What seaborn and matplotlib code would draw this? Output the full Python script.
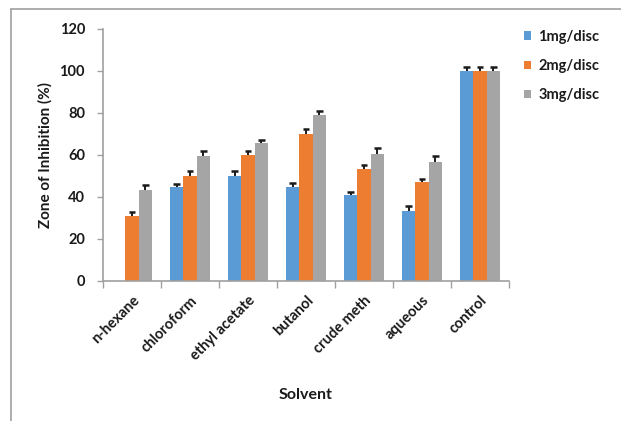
import matplotlib
matplotlib.use("Agg")
import matplotlib.pyplot as plt
from matplotlib.lines import Line2D
import numpy as np
import pandas as pd
import seaborn as sns

solvents = ["n-hexane", "chloroform", "ethyl acetate", "butanol",
            "crude meth", "aqueous", "control"]
doses = ["1mg/disc", "2mg/disc", "3mg/disc"]

inhibition_1mg = [0.0, 44.7, 50.2, 44.7, 40.9, 33.4, 100.0]
inhibition_2mg = [31.1, 50.2, 60.1, 69.9, 53.2, 47.1, 100.0]
inhibition_3mg = [43.4, 59.4, 65.6, 79.2, 60.7, 56.9, 100.0]

error_1mg = [0.0, 1.6, 2.2, 2.2, 1.7, 2.4, 1.9]
error_2mg = [1.6, 2.2, 1.7, 2.4, 2.2, 1.7, 1.9]
error_3mg = [2.4, 2.4, 1.7, 1.7, 2.4, 2.4, 1.9]

yticks = [0, 20, 40, 60, 80, 100, 120]

palette = ["#5B9BD5", "#ED7D31", "#A5A5A5"]

df = pd.DataFrame({
    "Solvent": solvents * 3,
    "Dose": [d for d in doses for _ in solvents],
    "Inhibition": inhibition_1mg + inhibition_2mg + inhibition_3mg,
    "Error": error_1mg + error_2mg + error_3mg,
})

sns.set_theme(style="white")
plt.rcParams["font.family"] = ["Lato", "DejaVu Sans"]

TEXT = "#1a1a1a"
AXIS = "#A0A0A0"

fig = plt.figure(figsize=(6.21, 4.21), dpi=100)
ax = fig.add_axes([103 / 621, 1 - 281 / 421, 406 / 621, 252 / 421])

sns.barplot(data=df, x="Solvent", y="Inhibition", hue="Dose",
            order=solvents, hue_order=doses, palette=palette,
            errorbar=None, width=0.68, saturation=1, ax=ax,
            linewidth=0, legend=True)

# plus-direction error bars: stem from bar top, cap at top only
cap_half = 0.06
for container, dose in zip(ax.containers, doses):
    sub = df[df["Dose"] == dose].set_index("Solvent").loc[solvents]
    vals = sub["Inhibition"].to_numpy()
    errs = sub["Error"].to_numpy()
    for patch, v, e in zip(container.patches, vals, errs):
        if v <= 0:
            continue
        xc = patch.get_x() + patch.get_width() / 2
        ax.vlines(xc, v, v + e, color=TEXT, lw=1.4, zorder=5)
        ax.hlines(v + e, xc - cap_half, xc + cap_half, color=TEXT,
                  lw=1.8, zorder=5)

ax.set_ylim(0, 120)
ax.set_xlim(-0.5, len(solvents) - 0.5)
ax.set_yticks(yticks)
ax.set_yticklabels([str(t) for t in yticks], fontsize=10.5,
                   fontweight="bold", color=TEXT)
ax.set_xticks(range(len(solvents)))
ax.set_xticklabels(solvents, rotation=45, ha="right",
                   rotation_mode="anchor", fontsize=10.5,
                   fontweight="bold", color=TEXT)
ax.set_xticks(np.arange(-0.5, len(solvents)), minor=True)
ax.tick_params(axis="x", which="major", length=0, pad=9)
ax.tick_params(axis="x", which="minor", length=5, width=1,
               color=AXIS, direction="out", bottom=True)
ax.tick_params(axis="y", length=4, width=1, color=AXIS,
               direction="out", left=True, pad=9)

for side in ["top", "right"]:
    ax.spines[side].set_visible(False)
for side in ["left", "bottom"]:
    ax.spines[side].set_color(AXIS)
    ax.spines[side].set_linewidth(1.2)

ax.set_xlabel("Solvent", fontsize=11.5, fontweight="bold", color=TEXT)
ax.set_ylabel("Zone of Inhibition (%)", fontsize=11, fontweight="bold",
              color=TEXT)
ax.xaxis.set_label_coords(0.5, -0.425)
ax.yaxis.set_label_coords(-0.125, 0.5)

leg = ax.legend(loc="upper left", bbox_to_anchor=(1.022, 1.02),
                frameon=False, fontsize=10.5, handlelength=0.5,
                handleheight=0.5, handletextpad=0.5, labelspacing=1.05,
                borderaxespad=0.0)
for txt in leg.get_texts():
    txt.set_fontweight("bold")
    txt.set_color(TEXT)

# outer frame lines along the left and top edges
fig.add_artist(Line2D([10.5 / 621, 10.5 / 621], [0, 1 - 9 / 421],
                      transform=fig.transFigure, color=AXIS, lw=1.2))
fig.add_artist(Line2D([10.5 / 621, 1], [1 - 9 / 421, 1 - 9 / 421],
                      transform=fig.transFigure, color=AXIS, lw=1.2))

fig.savefig("out.png", dpi=100, facecolor="white")
